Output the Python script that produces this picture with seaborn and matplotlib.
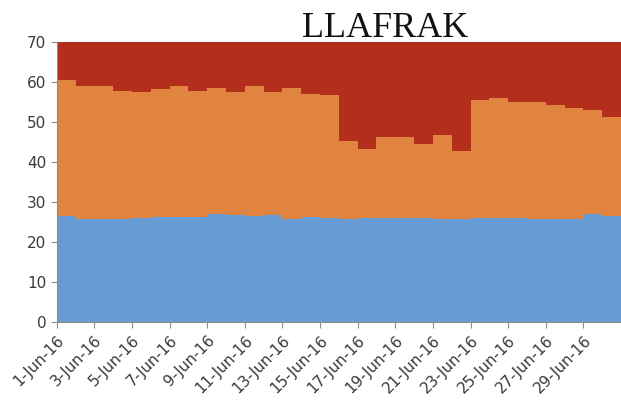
import numpy as np
import pandas as pd
import matplotlib
matplotlib.use("Agg")
import matplotlib.pyplot as plt
import seaborn as sns

# days of June 2016
days = [f"{d}-Jun-16" for d in range(1, 31)]

# stacked series, bottom to top
blue = [26.5, 25.7, 25.7, 25.8, 26.0, 26.2, 26.2, 26.2, 27.0, 26.8,
        26.4, 26.8, 25.7, 26.3, 26.0, 25.7, 26.0, 26.1, 26.1, 26.0,
        25.7, 25.7, 26.0, 26.1, 26.0, 25.8, 25.7, 25.7, 27.0, 26.4]
orange = [34.0, 33.3, 33.3, 32.0, 31.4, 31.9, 32.7, 31.5, 31.4, 30.6,
          32.5, 30.6, 32.7, 30.6, 30.8, 19.6, 17.1, 20.0, 20.0, 18.5,
          21.0, 17.1, 29.4, 29.9, 29.0, 29.2, 28.5, 27.7, 26.0, 24.8]
red = [9.5, 11.0, 11.0, 12.2, 12.6, 11.9, 11.1, 12.3, 11.6, 12.6,
       11.1, 12.6, 11.6, 13.1, 13.2, 24.7, 26.9, 23.9, 23.9, 25.5,
       23.3, 27.2, 14.6, 14.0, 15.0, 15.0, 15.8, 16.6, 17.0, 18.8]

colors = {"red": "#B32F1B", "orange": "#E0843F", "blue": "#679BD3"}

df = pd.concat([
    pd.DataFrame({"day": np.arange(len(days)) + 0.5, "value": vals, "series": name})
    for name, vals in [("blue", blue), ("orange", orange), ("red", red)]
])

fig = plt.figure(figsize=(6.21, 4.13), dpi=100)
ax = fig.add_axes([0.0913, 0.2203, 0.9087, 0.6787])

# seaborn stacks the last hue level at the bottom
sns.histplot(data=df, x="day", weights="value", hue="series",
             hue_order=["red", "orange", "blue"], palette=colors,
             bins=len(days), binrange=(0, len(days)), multiple="stack",
             element="step", fill=True, alpha=1, linewidth=0,
             legend=False, ax=ax)

ax.set_xlim(0, 30)
ax.set_ylim(0, 70)
ax.set_yticks(range(0, 71, 10))
ax.set_xticks(range(0, 30, 2))
ax.set_xticklabels(days[::2], rotation=45, ha="right", rotation_mode="anchor")
ax.set_xlabel("")
ax.set_ylabel("")

for s in ["top", "right"]:
    ax.spines[s].set_visible(False)
for s in ["left", "bottom"]:
    ax.spines[s].set_color("#8c8c8c")
    ax.spines[s].set_linewidth(0.8)
ax.tick_params(axis="both", colors="#8c8c8c", labelcolor="#3a3a3a",
               labelsize=11, length=4, width=0.8)

fig.text(0.62, 0.91, "LLAFRAK", family="Liberation Serif", fontsize=26,
         ha="center", va="baseline", color="#111111")

fig.savefig("out.png", dpi=100)
